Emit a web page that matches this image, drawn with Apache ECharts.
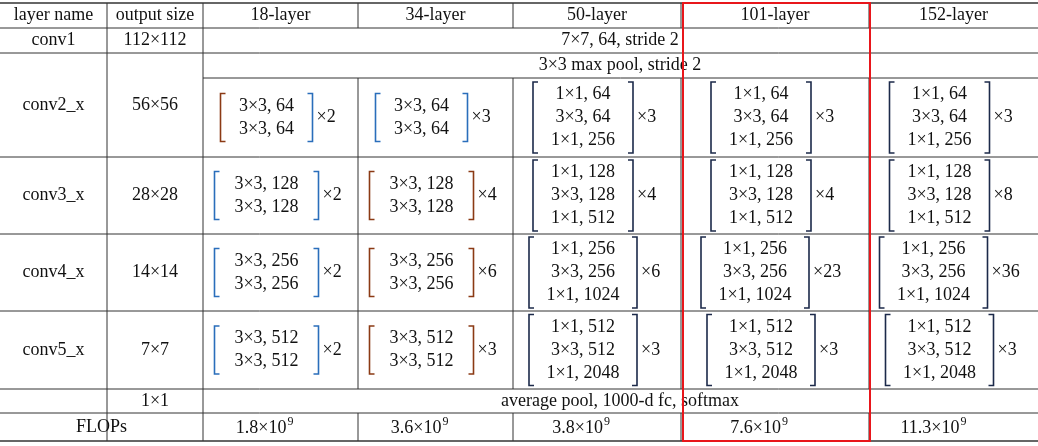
<!doctype html>
<html>
<head>
    <meta charset="utf-8">
    <title>ResNet architectures</title>
    <script src="https://cdn.jsdelivr.net/npm/echarts@6/dist/echarts.min.js"></script>
    <style>
        html, body { margin: 0; padding: 0; background: #fff; }
        #Chart { width: 1038px; height: 446px; }
    </style>
</head>
<body>
    <div id="Chart"></div>
<script>
    // table content
    var headers = ['layer name', 'output size', '18-layer', '34-layer', '50-layer', '101-layer', '152-layer'];
    var stageNames = ['conv2_x', 'conv3_x', 'conv4_x', 'conv5_x'];
    var outputSizes = ['56×56', '28×28', '14×14', '7×7'];
    var basicBlocks = [['3×3, 64', '3×3, 64'], ['3×3, 128', '3×3, 128'], ['3×3, 256', '3×3, 256'], ['3×3, 512', '3×3, 512']];
    var bottleBlocks = [['1×1, 64', '3×3, 64', '1×1, 256'], ['1×1, 128', '3×3, 128', '1×1, 512'],
                        ['1×1, 256', '3×3, 256', '1×1, 1024'], ['1×1, 512', '3×3, 512', '1×1, 2048']];
    var repeats18 = [2, 2, 2, 2];
    var repeats34 = [3, 4, 6, 3];
    var repeats50 = [3, 4, 6, 3];
    var repeats101 = [3, 4, 23, 3];
    var repeats152 = [3, 8, 36, 3];
    var flops = ['1.8', '3.6', '3.8', '7.6', '11.3'];

    var colX = [0, 107, 203, 358, 513, 681, 869, 1038];
    var rowY = [3, 28, 53, 78, 157, 234, 311, 389, 413, 441];
    var FONT = '"Liberation Serif", "DejaVu Serif", serif';
    var FS = 18;
    var BLUE = '#2a6ebb', BROWN = '#8b3a14', NAVY = '#1c2a4a';

    var g = [];
    function line(x1, y1, x2, y2, w, c) {
        g.push({ type: 'line', shape: { x1: x1, y1: y1, x2: x2, y2: y2 }, style: { stroke: c || '#333', lineWidth: w || 1 } });
    }
    function text(x, y, s, size, align) {
        g.push({ type: 'text', x: x, y: y, style: { text: s, font: (size || FS) + 'px ' + FONT, fill: '#111', align: align || 'center', verticalAlign: 'middle' } });
    }
    function sup(x, y, base) {
        text(x + 6, y, base + '×10', FS, 'right');
        text(x + 7, y - 6, '9', 12, 'left');
    }
    function block(cx, cy, lines, rep, half, lc, rc) {
        var lh = 23, h = lines.length * lh + 2;
        var tx = cx - 14;
        lines.forEach(function (s, i) { text(tx, cy + (i - (lines.length - 1) / 2) * lh, s); });
        var l = tx - half, r = tx + half, t = cy - h / 2, b = cy + h / 2;
        g.push({ type: 'polyline', shape: { points: [[l + 5, t], [l, t], [l, b], [l + 5, b]] }, style: { stroke: lc, lineWidth: 1.6, fill: null } });
        g.push({ type: 'polyline', shape: { points: [[r - 5, t], [r, t], [r, b], [r - 5, b]] }, style: { stroke: rc, lineWidth: 1.6, fill: null } });
        text(r + 4, cy, '×' + rep, FS, 'left');
    }

    // horizontal rules
    line(0, rowY[0], 1038, rowY[0], 1.5);
    line(0, rowY[1], 1038, rowY[1]);
    line(0, rowY[2], 1038, rowY[2]);
    line(colX[2], rowY[3], 1038, rowY[3]);
    for (var i = 4; i <= 8; i++) line(0, rowY[i], 1038, rowY[i]);
    line(0, rowY[9], 1038, rowY[9], 1.5);

    // vertical rules
    line(colX[1], rowY[0], colX[1], rowY[9]);
    line(colX[2], rowY[0], colX[2], rowY[9]);
    [3, 4, 5, 6].forEach(function (c) {
        line(colX[c], rowY[0], colX[c], rowY[1]);
        line(colX[c], rowY[3], colX[c], rowY[7]);
        line(colX[c], rowY[8], colX[c], rowY[9]);
    });

    function mid(a, b) { return (a + b) / 2; }
    headers.forEach(function (h, c) { text(mid(colX[c], colX[c + 1]), mid(rowY[0], rowY[1]), h); });
    text(mid(colX[0], colX[1]), mid(rowY[1], rowY[2]), 'conv1');
    text(mid(colX[1], colX[2]), mid(rowY[1], rowY[2]), '112×112');
    text(620, mid(rowY[1], rowY[2]), '7×7, 64, stride 2');
    text(620, mid(rowY[2], rowY[3]), '3×3 max pool, stride 2');

    stageNames.forEach(function (n, s) {
        var top = s === 0 ? rowY[2] : rowY[3 + s];
        var cy = mid(top, rowY[4 + s]);
        var bcy = mid(rowY[3 + s], rowY[4 + s]);
        text(mid(colX[0], colX[1]), cy, n);
        text(mid(colX[1], colX[2]), cy, outputSizes[s]);
        var wide = s >= 1 ? 52 : 46;
        block(mid(colX[2], colX[3]), bcy, basicBlocks[s], repeats18[s], wide, s === 0 ? BROWN : BLUE, BLUE);
        block(mid(colX[3], colX[4]), bcy, basicBlocks[s], repeats34[s], wide, s === 0 ? BLUE : BROWN, s === 0 ? BLUE : BROWN);
        var bw = s >= 2 ? 54 : 50;
        block(mid(colX[4], colX[5]), bcy, bottleBlocks[s], repeats50[s], bw, NAVY, NAVY);
        block(mid(colX[5], colX[6]) + (s === 2 ? -6 : 0), bcy, bottleBlocks[s], repeats101[s], bw, NAVY, NAVY);
        block(mid(colX[6], colX[7]) + (s === 2 ? -6 : 0), bcy, bottleBlocks[s], repeats152[s], bw, NAVY, NAVY);
    });

    text(mid(colX[1], colX[2]), mid(rowY[7], rowY[8]), '1×1');
    text(620, mid(rowY[7], rowY[8]), 'average pool, 1000-d fc, softmax');
    text(mid(colX[0], colX[2]), mid(rowY[8], rowY[9]), 'FLOPs');
    flops.forEach(function (f, i) { sup(mid(colX[2 + i], colX[3 + i]), mid(rowY[8], rowY[9]) + 1, f); });

    // highlight box around the 101-layer column
    g.push({ type: 'rect', shape: { x: 683, y: 3, width: 187, height: 438 }, style: { stroke: '#e8161b', lineWidth: 2, fill: null }, z: 10 });

    var myChart = echarts.init(document.getElementById('Chart'));
    myChart.setOption({ animation: false, graphic: { elements: g } });
</script>
</body>
</html>
